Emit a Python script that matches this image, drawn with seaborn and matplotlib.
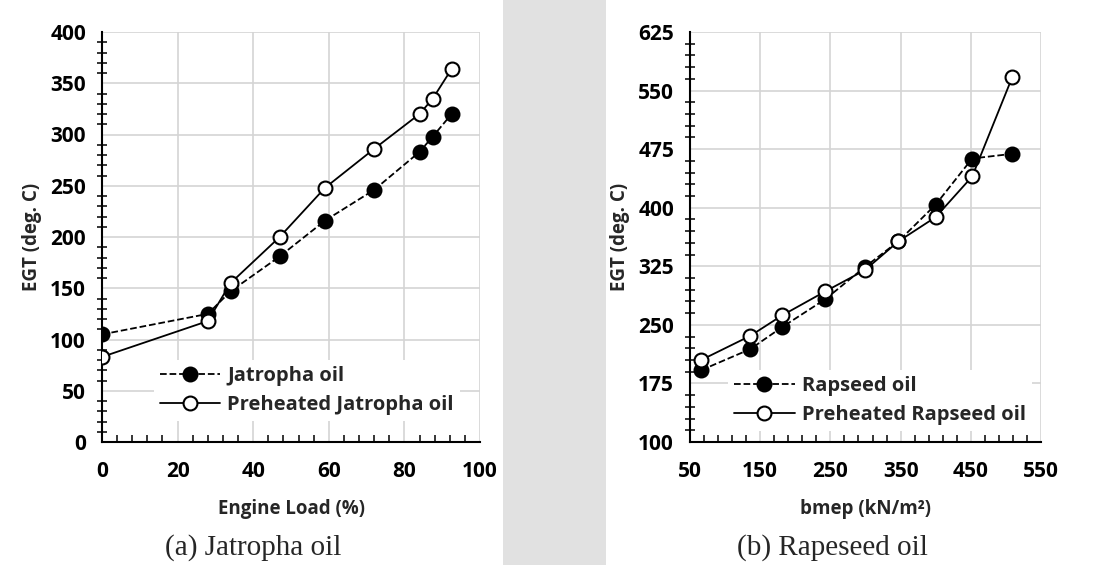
import numpy as np
import pandas as pd
import matplotlib
matplotlib.use("Agg")
import matplotlib.pyplot as plt
from matplotlib.patches import Rectangle
from matplotlib.ticker import MultipleLocator
import seaborn as sns

# (a) Jatropha oil
load_pct = [0, 28, 34, 47, 59, 72, 84, 87.5, 92.5]
egt_jatropha = [105, 125, 147, 181, 216, 246, 283, 298, 320]
egt_jatropha_hot = [83, 118, 155, 200, 248, 286, 320, 335, 364]

# (b) Rapeseed oil
bmep = [66, 136, 181, 243, 299, 347, 400, 452, 509]
egt_rapseed = [192, 219, 247, 283, 324, 357, 404, 463, 469]
egt_rapseed_hot = [205, 236, 262, 293, 320, 357, 388, 440, 567]

sns.set_style("white")
plt.rcParams['font.family'] = ['Open Sans', 'DejaVu Sans']

fig = plt.figure(figsize=(11.01, 5.65), dpi=100)
fig.patch.set_facecolor('white')
# grey strip between the two panels
fig.patches.append(Rectangle((503 / 1101, 0), 103 / 1101, 1, transform=fig.transFigure,
                             facecolor='#e1e1e1', edgecolor='none', zorder=0))

ax1 = fig.add_axes([102 / 1101, 1 - 442 / 565, 378 / 1101, 410 / 565])
ax2 = fig.add_axes([690 / 1101, 1 - 442 / 565, 351 / 1101, 410 / 565])


def draw_panel(ax, x, y_raw, y_hot, lab_raw, lab_hot):
    df = pd.DataFrame({'x': x, 'raw': y_raw, 'hot': y_hot})
    sns.lineplot(data=df, x='x', y='raw', ax=ax, color='black', linestyle='--',
                 linewidth=1.3, marker='o', markersize=10, markerfacecolor='black',
                 markeredgecolor='black', markeredgewidth=1.5, label=lab_raw, zorder=3)
    sns.lineplot(data=df, x='x', y='hot', ax=ax, color='black', linestyle='-',
                 linewidth=1.3, marker='o', markersize=10, markerfacecolor='white',
                 markeredgecolor='black', markeredgewidth=1.5, label=lab_hot, zorder=4)


draw_panel(ax1, load_pct, egt_jatropha, egt_jatropha_hot, 'Jatropha oil', 'Preheated Jatropha oil')
draw_panel(ax2, bmep, egt_rapseed, egt_rapseed_hot, 'Rapseed oil', 'Preheated Rapseed oil')

ax1.set_xlim(0, 100)
ax1.set_ylim(0, 400)
ax1.xaxis.set_major_locator(MultipleLocator(20))
ax1.xaxis.set_minor_locator(MultipleLocator(4))
ax1.yaxis.set_major_locator(MultipleLocator(50))
ax1.yaxis.set_minor_locator(MultipleLocator(10))

ax2.set_xlim(50, 550)
ax2.set_ylim(100, 625)
ax2.xaxis.set_major_locator(MultipleLocator(100, offset=50))
ax2.xaxis.set_minor_locator(MultipleLocator(20, offset=10))
ax2.yaxis.set_major_locator(MultipleLocator(75, offset=25))
ax2.yaxis.set_minor_locator(MultipleLocator(15, offset=10))

ax1.set_xlabel('Engine Load (%)', fontsize=13.5, fontweight='bold', labelpad=12)
ax2.set_xlabel('bmep (kN/m²)', fontsize=13.5, fontweight='bold', labelpad=12)
for ax in (ax1, ax2):
    ax.set_ylabel('EGT (deg. C)', fontsize=13.5, fontweight='bold', labelpad=6)
    ax.grid(True, which='major', color='#d4d4d4', linewidth=1.2)
    ax.set_axisbelow(True)
    for s in ('top', 'right'):
        ax.spines[s].set_visible(False)
    for s in ('left', 'bottom'):
        ax.spines[s].set_color('black')
        ax.spines[s].set_linewidth(1.5)
    ax.tick_params(axis='y', which='major', direction='inout', length=9, width=1.5,
                   labelsize=15, pad=7, colors='black')
    ax.tick_params(axis='y', which='minor', direction='inout', length=7, width=1.3, left=True)
    ax.tick_params(axis='x', which='major', direction='inout', length=10, width=1.5,
                   labelsize=15, pad=9, colors='black')
    ax.tick_params(axis='x', which='minor', direction='in', length=5, width=1.3, bottom=True)
    for lbl in ax.get_xticklabels() + ax.get_yticklabels():
        lbl.set_fontweight('bold')

leg_kw = dict(frameon=True, facecolor='white', edgecolor='none', framealpha=1,
              fancybox=False, handlelength=3.0, handletextpad=0.35, labelspacing=0.45,
              borderpad=0.3, prop={'weight': 'bold', 'size': 14.5})
ax1.legend(loc='upper left', bbox_to_anchor=(0.11, 0.225), **leg_kw)
ax2.legend(loc='upper left', bbox_to_anchor=(0.08, 0.2), **leg_kw)

fig.text(253 / 1101, 1 - 548 / 565, '(a) Jatropha oil', ha='center', va='center',
         fontsize=21, family=['Liberation Serif', 'DejaVu Serif'])
fig.text(832 / 1101, 1 - 548 / 565, '(b) Rapeseed oil', ha='center', va='center',
         fontsize=21, family=['Liberation Serif', 'DejaVu Serif'])

fig.savefig('out.png', dpi=100, facecolor=fig.get_facecolor())
